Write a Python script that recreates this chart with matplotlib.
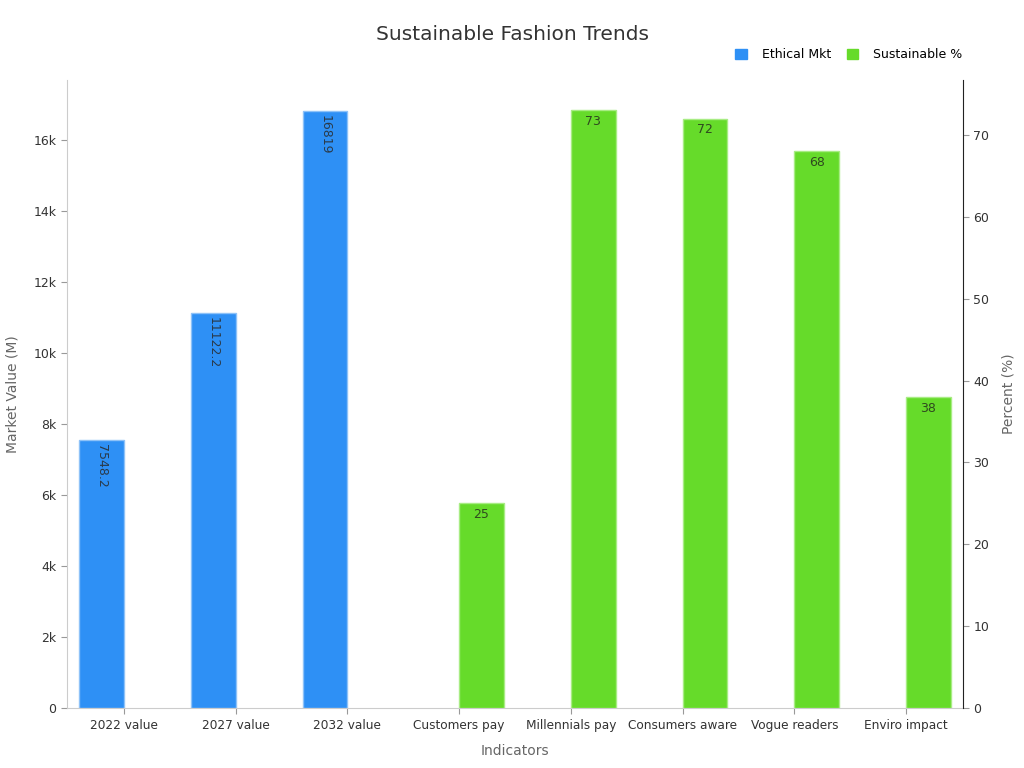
import numpy as np
import matplotlib.pyplot as plt
from matplotlib.ticker import FuncFormatter
from matplotlib.patches import Patch

categories = ['2022 value', '2027 value', '2032 value', 'Customers pay',
              'Millennials pay', 'Consumers aware', 'Vogue readers', 'Enviro impact']
ethical_mkt = [7548.2, 11122.2, 16819, None, None, None, None, None]
sustainable_pct = [None, None, None, 25, 73, 72, 68, 38]

blue = '#2E90F5'
green = '#66DB2A'
text_dark = '#333333'
grey = '#666666'

fig = plt.figure(figsize=(10.24, 7.68), dpi=100)
ax = fig.add_axes([0.0654, 0.078, 0.875, 0.8178])
ax2 = ax.twinx()

x = np.arange(len(categories))
w = 0.4

bx = [i for i, v in enumerate(ethical_mkt) if v is not None]
bv = [v for v in ethical_mkt if v is not None]
gx = [i for i, v in enumerate(sustainable_pct) if v is not None]
gv = [v for v in sustainable_pct if v is not None]

bars1 = ax.bar(np.array(bx) - w / 2, bv, width=w, color=blue, edgecolor='#8EC2F8', linewidth=1)
bars2 = ax2.bar(np.array(gx) + w / 2, gv, width=w, color=green, edgecolor='#A8EC84', linewidth=1)

for b, v in zip(bars1, bv):
    lab = f'{v:g}'
    ax.text(b.get_x() + b.get_width() / 2, b.get_height() - 120, lab,
            rotation=270, ha='center', va='top', fontsize=9, color='#2a3a4a')
for b, v in zip(bars2, gv):
    ax2.text(b.get_x() + b.get_width() / 2, b.get_height() - 0.6, f'{v:g}',
             ha='center', va='top', fontsize=9, color='#2f4a1f')

ax.set_xlim(-0.51, 7.51)
ax.set_ylim(0, 17690)
ax2.set_ylim(0, 76.7)
ax.set_yticks(np.arange(0, 17000, 2000))
ax.yaxis.set_major_formatter(FuncFormatter(lambda v, p: '0' if v == 0 else f'{int(v/1000)}k'))
ax2.set_yticks(np.arange(0, 80, 10))

ax.set_xticks(x)
ax.set_xticklabels(categories, fontsize=8.7, color=text_dark)
ax.tick_params(axis='y', labelsize=9, labelcolor=text_dark, color='#999999', length=4)
ax.tick_params(axis='x', color='#999999', length=4)
ax2.tick_params(axis='y', labelsize=9, labelcolor=text_dark, color='#999999', length=4)

for s in ['top', 'right']:
    ax.spines[s].set_visible(False)
ax.spines['left'].set_color('#cccccc')
ax.spines['bottom'].set_color('#cccccc')
for s in ['top', 'left', 'bottom']:
    ax2.spines[s].set_visible(False)
ax2.spines['right'].set_color('#222222')

ax.set_xlabel('Indicators', fontsize=10, color=grey, labelpad=9)
ax.set_ylabel('Market Value (M)', fontsize=10, color=grey, labelpad=10)
ax2.set_ylabel('Percent (%)', fontsize=10, color=grey, labelpad=9)

fig.suptitle('Sustainable Fashion Trends', fontsize=14.5, color=text_dark, y=0.968)

handles = [Patch(color=blue, label='Ethical Mkt'), Patch(color=green, label='Sustainable %')]
fig.legend(handles=handles, loc='upper right', bbox_to_anchor=(0.951, 0.952), ncol=2,
           frameon=False, fontsize=9, handlelength=0.9, handleheight=0.9,
           columnspacing=1.3, handletextpad=1.2)

fig.savefig('out.png', dpi=100)
